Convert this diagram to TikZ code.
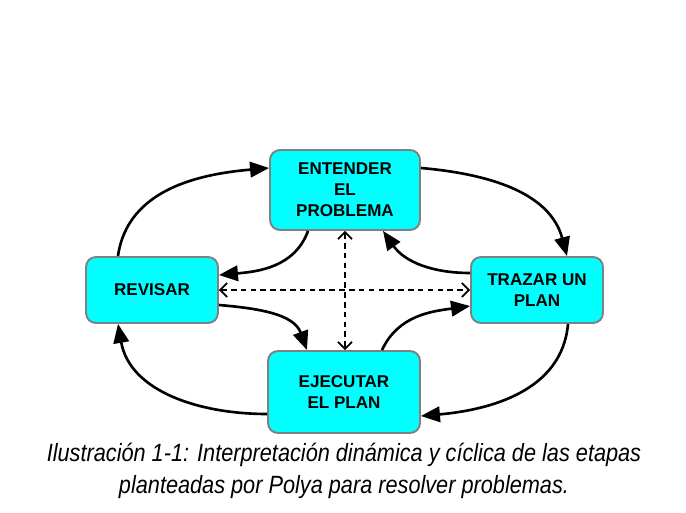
\documentclass[tikz,border=0pt]{standalone}
\usepackage{fontspec}
\setmainfont{Liberation Sans}
\newfontfamily\leyendafont[FakeStretch=0.87]{Liberation Sans}
\usetikzlibrary{arrows.meta,calc}
\definecolor{celeste}{RGB}{0,255,255}

\begin{document}
\begin{tikzpicture}[x=0.02cm, y=0.02cm,
  etapa/.style={draw=gray, line width=1.1pt, fill=celeste, rounded corners=0.2cm,
    align=center, inner sep=0pt, font=\fontsize{9.7}{11.9}\selectfont\bfseries},
  flecha/.style={line width=1.5pt, -{Triangle[length=3.8mm,width=3.1mm]}},
  ida/.style={line width=1pt, dash pattern=on 3.2pt off 2.4pt,
    {Straight Barb[length=1.4mm,width=2.8mm]}-{Straight Barb[length=1.4mm,width=2.8mm]}},
  leyenda/.style={font=\leyendafont\itshape\fontsize{14.2}{18}\selectfont, anchor=base}]
  \useasboundingbox (0,0) rectangle (686,513);
  % etapas
  \node[etapa, minimum width=3cm, minimum height=1.6cm] (entender) at (345,323) {ENTENDER\\EL\\PROBLEMA};
  \node[etapa, minimum width=2.64cm, minimum height=1.32cm] (revisar) at (152,223) {REVISAR};
  \node[etapa, minimum width=2.64cm, minimum height=1.32cm] (trazar) at (537,223) {TRAZAR UN\\PLAN};
  \node[etapa, minimum width=3.04cm, minimum height=1.64cm] (ejecutar) at (344,121) {EJECUTAR\\EL PLAN};
  % ciclo de fuera
  \draw[flecha] ($(revisar.north)+(-34,0)$) to[out=82,in=185] ($(entender.west)+(0,22)$);
  \draw[flecha] ($(entender.east)+(0,22)$) to[out=-5,in=105] ($(trazar.north)+(30,0)$);
  \draw[flecha] ($(trazar.south)+(31,0)$) to[out=-95,in=5] ($(ejecutar.east)+(0,-24)$);
  \draw[flecha] ($(ejecutar.west)+(0,-22)$) to[out=180,in=-80] ($(revisar.south)+(-34,0)$);
  % ciclo de dentro
  \draw[flecha] ($(entender.south)+(-37,0)$) to[out=-110,in=5] ($(revisar.east)+(0,15)$);
  \draw[flecha] ($(trazar.west)+(0,17)$) to[out=180,in=-55] ($(entender.south)+(38,0)$);
  \draw[flecha] ($(revisar.east)+(0,-15)$) to[out=-5,in=110] ($(ejecutar.north)+(-37,0)$);
  \draw[flecha] ($(ejecutar.north)+(38,0)$) to[out=65,in=188] ($(trazar.west)+(0,-16)$);
  % idas y vueltas
  \draw[ida] (revisar) -- (trazar);
  \draw[ida] (entender.south) -- (entender.south |- ejecutar.north);
  % leyenda
  \node[leyenda] (leyenda1) at (344,51) {Ilustración 1-1: Interpretación dinámica y cíclica de las etapas};
  \node[leyenda] (leyenda2) at (344,19) {planteadas por Polya para resolver problemas.};
\end{tikzpicture}
\end{document}
